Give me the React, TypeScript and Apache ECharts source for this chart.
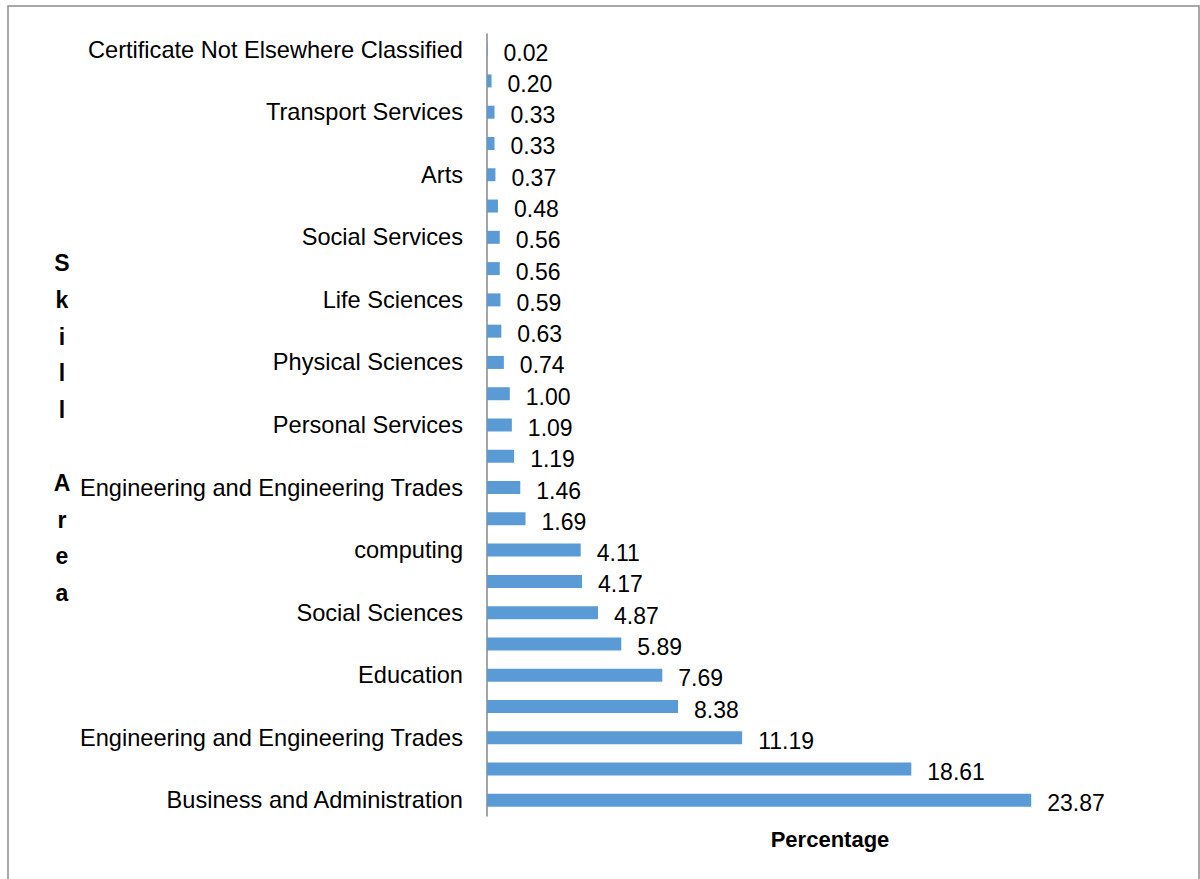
import React, { useEffect, useRef } from "react";
import * as echarts from "echarts";

// Categories listed bottom-to-top (ECharts category y-axis order); blank = unlabelled in source
const categories: string[] = [
  "Business and Administration",
  "",
  "Engineering and Engineering Trades",
  "",
  "Education",
  "",
  "Social Sciences",
  "",
  "computing",
  "",
  "Engineering and Engineering Trades",
  "",
  "Personal Services",
  "",
  "Physical Sciences",
  "",
  "Life Sciences",
  "",
  "Social Services",
  "",
  "Arts",
  "",
  "Transport Services",
  "",
  "Certificate Not Elsewhere Classified",
];

const percentages: number[] = [
  23.87, 18.61, 11.19, 8.38, 7.69, 5.89, 4.87, 4.17, 4.11, 1.69, 1.46, 1.19,
  1.09, 1.0, 0.74, 0.63, 0.59, 0.56, 0.56, 0.48, 0.37, 0.33, 0.33, 0.2, 0.02,
];

const yAxisTitle = "Skill Area";
const xAxisTitle = "Percentage";

const FONT = "'Liberation Sans', Arial, sans-serif";

export default function App() {
  const ref = useRef<HTMLDivElement>(null);

  useEffect(() => {
    if (!ref.current) return;
    const chart = echarts.init(ref.current, null, { renderer: "svg" });
    const verticalTitle = yAxisTitle
      .split("")
      .map((c) => (c === " " ? "" : c))
      .join("\n");
    chart.setOption({
      animation: false,
      backgroundColor: "#ffffff",
      grid: { left: 487, right: 29, top: 34, bottom: 63, containLabel: false },
      xAxis: {
        type: "value",
        min: 0,
        max: 30,
        show: false,
      },
      yAxis: {
        type: "category",
        data: categories,
        axisLine: { show: true, lineStyle: { color: "#868686", width: 1.5 } },
        axisTick: { show: false },
        axisLabel: {
          interval: 0,
          margin: 24,
          fontSize: 23.6,
          fontFamily: FONT,
          color: "#000000",
        },
        splitLine: { show: false },
      },
      series: [
        {
          type: "bar",
          data: percentages,
          barWidth: 13,
          itemStyle: { color: "#5b9bd5" },
          label: {
            show: true,
            position: "right",
            distance: 16,
            offset: [0, 3],
            fontSize: 23,
            fontFamily: FONT,
            color: "#000000",
            formatter: (p: any) => Number(p.value).toFixed(2),
          },
        },
      ],
      graphic: [
        {
          type: "rect",
          shape: { x: 8, y: 6, width: 1191, height: 900 },
          style: { fill: "none", stroke: "#8c8c8c", lineWidth: 1.5 },
          silent: true,
        },
        {
          type: "text",
          x: 62,
          y: 428,
          style: {
            text: verticalTitle,
            font: `bold 23px ${FONT}`,
            fill: "#000000",
            align: "center",
            verticalAlign: "middle",
            lineHeight: 36.6,
          },
        },
        {
          type: "text",
          x: 830,
          y: 839,
          style: {
            text: xAxisTitle,
            font: `bold 22px ${FONT}`,
            fill: "#000000",
            align: "center",
            verticalAlign: "middle",
          },
        },
      ],
    });
    return () => chart.dispose();
  }, []);

  return (
    <div
      ref={ref}
      style={{ position: "absolute", left: 0, top: 0, width: 1200, height: 879 }}
    />
  );
}
